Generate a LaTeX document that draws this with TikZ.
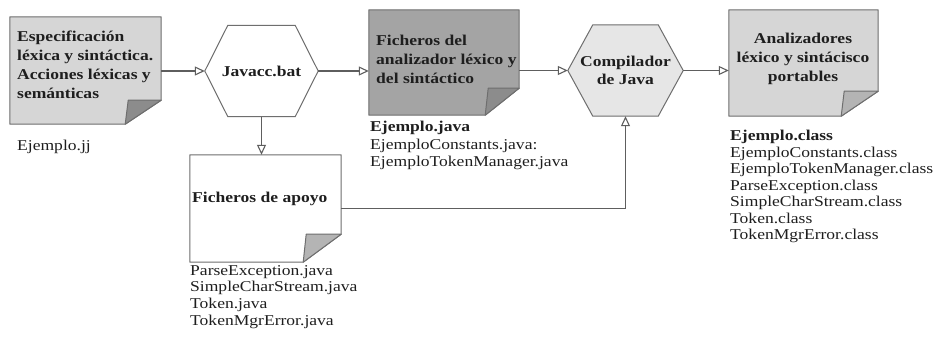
\documentclass[tikz,border=0pt]{standalone}
\usepackage{fontspec}
\setmainfont[FakeStretch=1.17]{Liberation Serif}
\usetikzlibrary{arrows.meta,calc}
\definecolor{edgegray}{HTML}{6E6E6E}
\definecolor{linegray}{HTML}{5E5E5E}
\definecolor{lightfill}{HTML}{D6D6D6}
\definecolor{darkfill}{HTML}{A4A4A4}
\definecolor{hexfill}{HTML}{E6E6E6}
\definecolor{flapdark}{HTML}{8C8C8C}
\definecolor{flaplight}{HTML}{B4B4B4}
\definecolor{txt}{HTML}{1E1E1E}
\newcommand\docpage[5]{%
  \path[page, fill=#2] (#1.north west) -- (#1.north east) -- ($(#1.south east)+(0,-#5)$)
     -- ($(#1.south east)+(-#4,0)$) -- (#1.south west) -- cycle;
  \path[page, fill=#3] ($(#1.south east)+(-#4,0)$) -- ($(#1.south east)+(-#4+3,-#5)$)
     -- ($(#1.south east)+(0,-#5)$) -- cycle;}
\newcommand\hexpath[3]{%
  \path[page, fill=#2] (#1.west) -- ($(#1.north west)+(#3,0)$) -- ($(#1.north east)+(-#3,0)$)
     -- (#1.east) -- ($(#1.south east)+(-#3,0)$) -- ($(#1.south west)+(#3,0)$) -- cycle;}
\begin{document}
\begin{tikzpicture}[x=1pt,y=-1pt,
  page/.style={draw=edgegray, line width=1pt, line join=round},
  shapebox/.style={draw=none, inner sep=0pt},
  conn/.style={draw=linegray, line width=1.1pt},
  arr/.style={conn, -{Triangle[open, length=10pt, width=9pt, line width=1.1pt]}},
  boxtxt/.style={font=\fontsize{15}{19}\selectfont\bfseries, text=txt, inner sep=0pt, align=left, anchor=north west},
  hextxt/.style={font=\fontsize{15}{18}\selectfont\bfseries, text=txt, align=center},
  listtxt/.style={font=\fontsize{15}{16.8}\selectfont, text=txt, inner sep=0pt, align=left, anchor=north west}]
\useasboundingbox (0,0) rectangle (942,342);
\fill[white] (0,0) rectangle (942,342);

% shape nodes
\node[shapebox, minimum width=151pt, minimum height=107pt] (doc1) at (85.5,70.5) {};
\node[shapebox, minimum width=113pt, minimum height=91pt] (hex1) at (261.5,71) {};
\node[shapebox, minimum width=150pt, minimum height=105pt] (doc2) at (444,62.5) {};
\node[shapebox, minimum width=115pt, minimum height=91pt] (hex2) at (625.5,70.5) {};
\node[shapebox, minimum width=149pt, minimum height=106pt] (doc3) at (803.5,63) {};
\node[shapebox, minimum width=151pt, minimum height=107pt] (apoyo) at (265.5,208.5) {};

\docpage{doc1}{lightfill}{flapdark}{36}{24}
\docpage{doc2}{darkfill}{flapdark}{34}{27}
\docpage{doc3}{lightfill}{flaplight}{37}{25}
\docpage{apoyo}{white}{flaplight}{38}{28}
\hexpath{hex1}{white}{23}
\hexpath{hex2}{hexfill}{25}

% texts in shapes
\node[boxtxt] (t1) at (17,31) {Especificación\\léxica y sintáctica.\\Acciones léxicas y\\semánticas};
\node[hextxt] (th1) at (hex1.center) {Javacc.bat};
\node[boxtxt] (t2) at (376,35) {Ficheros del\\analizador léxico y\\del sintáctico};
\node[hextxt] (th2) at (hex2.center) {Compilador\\de Java};
\node[boxtxt, anchor=north, align=center] (t3) at (803,33) {Analizadores\\léxico y sintácisco\\portables};
\node[boxtxt] (t4) at (192,192) {Ficheros de apoyo};

% lists
\node[listtxt] (l1) at (17,140) {Ejemplo.jj};
\node[listtxt, font=\fontsize{15}{17.5}\selectfont] (l2) at (370,121) {\textbf{Ejemplo.java}\\EjemploConstants.java:\\EjemploTokenManager.java};
\node[listtxt, font=\fontsize{15}{16.5}\selectfont] (l3) at (730,130) {\textbf{Ejemplo.class}\\EjemploConstants.class\\EjemploTokenManager.class\\ParseException.class\\SimpleCharStream.class\\Token.class\\TokenMgrError.class};
\node[listtxt] (l4) at (190,265) {ParseException.java\\SimpleCharStream.java\\Token.java\\TokenMgrError.java};

% connectors
\draw[arr] (doc1.east |- hex1.west) -- (hex1.west);
\draw[arr] (hex1.east) -- (hex1.east -| doc2.west);
\draw[arr] (doc2.east |- hex2.west) -- (hex2.west);
\draw[arr] (hex2.east) -- (hex2.east -| doc3.west);
\draw[arr] (hex1.south) -- (hex1.south |- apoyo.north);
\draw[arr] (apoyo.east) -| (hex2.south);
\end{tikzpicture}
\end{document}
